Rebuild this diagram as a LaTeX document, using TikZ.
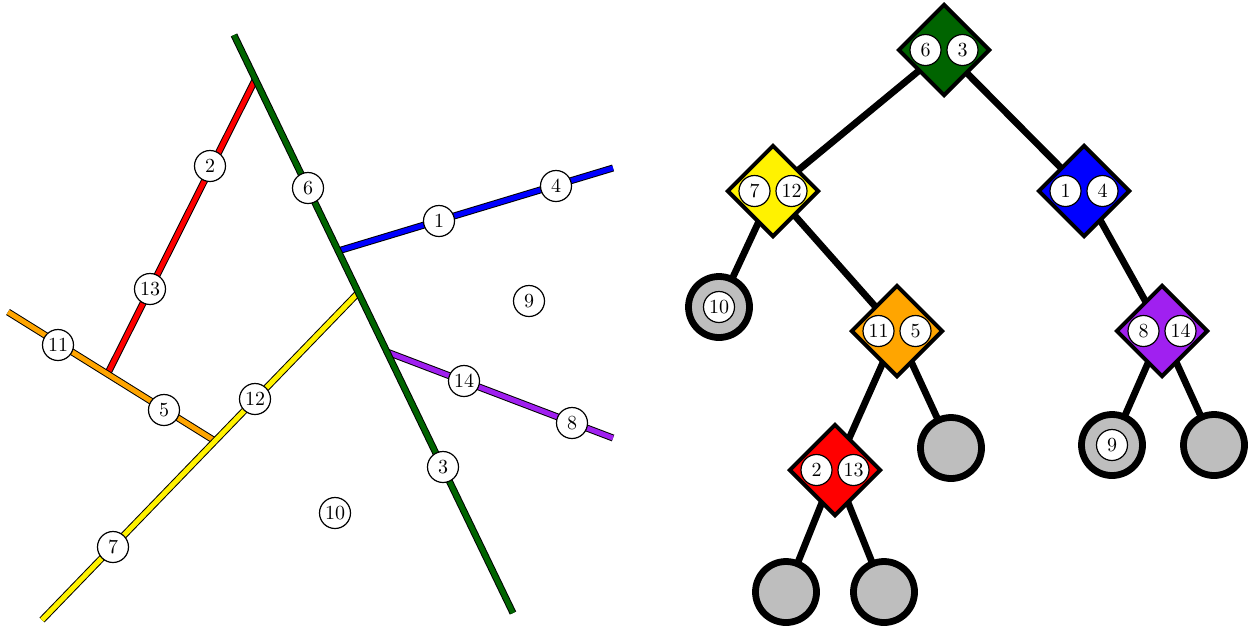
\documentclass[tikz,border=0pt]{standalone}
\usetikzlibrary{shapes.geometric,calc,backgrounds}
\definecolor{cgreen}{RGB}{0,100,0}
\definecolor{cpurple}{RGB}{160,32,240}
\definecolor{corange}{RGB}{255,165,0}
\definecolor{cgray}{RGB}{190,190,190}
\begin{document}
\begin{tikzpicture}[x=0.5pt,y=-0.5pt,
  num/.style={circle,draw,fill=white,inner sep=0pt,minimum size=15.5pt,line width=0.6pt,font=\normalsize},
  seg/.style={draw=black,line width=3.5pt,postaction={draw=#1,line width=2.5pt}},
  dia/.style={diamond,draw=black,line width=2pt,aspect=1,inner sep=0pt,minimum size=46pt,fill=#1},
  leaf/.style={circle,draw=black,line width=3.4pt,fill=cgray,inner sep=0pt,minimum size=30.5pt},
  edge/.style={draw=black,line width=3.4pt}]
\path[use as bounding box] (0,0) rectangle (1252,629);

% ---------- left: split lines ----------
\coordinate (g1) at (234,35);   \coordinate (g2) at (513,613);
\coordinate (b1) at (338,251);  \coordinate (b2) at (613,168);
\coordinate (p1) at (387,352);  \coordinate (p2) at (613,438);
\coordinate (y1) at (358,293);  \coordinate (y2) at (42,620);
\coordinate (o1) at (8,312);    \coordinate (o2) at (215,441);
\coordinate (r1) at (255,80);   \coordinate (r2) at (107,375);

\path[seg=red] (r1) -- (r2);
\path[seg=corange] (o1) -- (o2);
\path[seg=yellow] (y1) -- (y2);
\path[seg=blue] (b1) -- (b2);
\path[seg=cpurple] (p1) -- (p2);
\path[seg=cgreen] (g1) -- (g2);

\node[num] (n6) at (308,188) {6};
\node[num] (n3) at (443,467) {3};
\node[num] (n2) at (210,166) {2};
\node[num] (n13) at (150,289) {13};
\node[num] (n1) at (439,221) {1};
\node[num] (n4) at (556,186) {4};
\node[num] (n12) at (255,399) {12};
\node[num] (n7) at (113,547) {7};
\node[num] (n11) at (58,345) {11};
\node[num] (n5) at (164,410) {5};
\node[num] (n14) at (464,381) {14};
\node[num] (n8) at (572,423) {8};
\node[num] (n9) at (529,301) {9};
\node[num] (n10) at (335,513) {10};

% ---------- right: tree ----------
\node[dia=cgreen] (T63) at (944,50) {};
\node[dia=yellow] (T712) at (773,191) {};
\node[dia=blue] (T14) at (1084,191) {};
\node[dia=corange] (T115) at (897,331) {};
\node[dia=cpurple] (T814) at (1162,331) {};
\node[dia=red] (T213) at (835,470) {};
\node[leaf] (L10) at (719,307) {};
\node[leaf] (Lo) at (951,448) {};
\node[leaf] (L9) at (1112,445) {};
\node[leaf] (Lp) at (1214,445) {};
\node[leaf] (Lr1) at (786,592) {};
\node[leaf] (Lr2) at (884,592) {};

\begin{scope}[on background layer]
\draw[edge] (T63.center) -- (T712.center);
\draw[edge] (T63.center) -- (T14.center);
\draw[edge] (T712.center) -- (L10.center);
\draw[edge] (T712.center) -- (T115.center);
\draw[edge] (T14.center) -- (T814.center);
\draw[edge] (T115.center) -- (T213.center);
\draw[edge] (T115.center) -- (Lo.center);
\draw[edge] (T814.center) -- (L9.center);
\draw[edge] (T814.center) -- (Lp.center);
\draw[edge] (T213.center) -- (Lr1.center);
\draw[edge] (T213.center) -- (Lr2.center);
\end{scope}

\node[num] (t6) at ($(T63)+(-18.5,0)$) {6};
\node[num] (t3) at ($(T63)+(18.5,0)$) {3};
\node[num] (t7) at ($(T712)+(-18.5,0)$) {7};
\node[num] (t12) at ($(T712)+(18.5,0)$) {12};
\node[num] (t1) at ($(T14)+(-18.5,0)$) {1};
\node[num] (t4) at ($(T14)+(18.5,0)$) {4};
\node[num] (t11) at ($(T115)+(-18.5,0)$) {11};
\node[num] (t5) at ($(T115)+(18.5,0)$) {5};
\node[num] (t8) at ($(T814)+(-18.5,0)$) {8};
\node[num] (t14) at ($(T814)+(18.5,0)$) {14};
\node[num] (t2) at ($(T213)+(-18.5,0)$) {2};
\node[num] (t13) at ($(T213)+(18.5,0)$) {13};
\node[num] (t10) at (L10) {10};
\node[num] (t9) at (L9) {9};
\end{tikzpicture}
\end{document}
